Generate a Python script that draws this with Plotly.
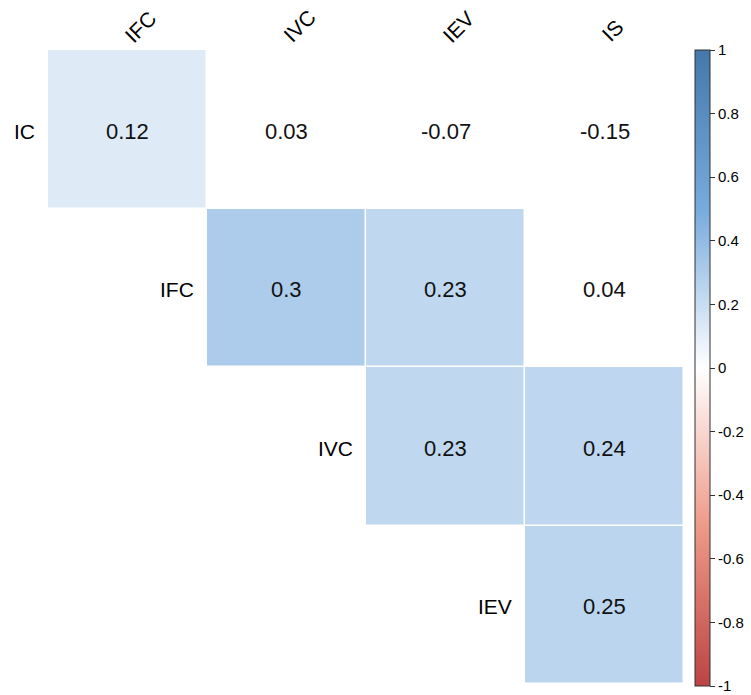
import plotly.graph_objects as go

# ---- data ----
row_labels = ["IC", "IFC", "IVC", "IEV"]
col_labels = ["IFC", "IVC", "IEV", "IS"]
corr_ic = [0.12, 0.03, -0.07, -0.15]
corr_ifc = [None, 0.30, 0.23, 0.04]
corr_ivc = [None, None, 0.23, 0.24]
corr_iev = [None, None, None, 0.25]
signif_ic = [True, False, False, False]
signif_ifc = [False, True, True, False]
signif_ivc = [False, False, True, True]
signif_iev = [False, False, False, True]
cbar_ticks = [1, 0.8, 0.6, 0.4, 0.2, 0, -0.2, -0.4, -0.6, -0.8, -1]

corr = [corr_ic, corr_ifc, corr_ivc, corr_iev]
signif = [signif_ic, signif_ifc, signif_ivc, signif_iev]

FONT = "Liberation Sans, Arial, sans-serif"
W, H = 751, 695
L, R, T, B = 48, 67, 50, 11
PW = W - L - R   # 636
PH = H - T - B   # 634

z = []
for i, row in enumerate(corr):
    z.append([v if (v is not None and signif[i][j]) else None for j, v in enumerate(row)])

xs = list(range(len(col_labels)))
ys = list(range(len(row_labels)))

colorscale = [
    [0.0, "#BB4444"],
    [0.25, "#EE9988"],
    [0.5, "#FFFFFF"],
    [0.75, "#77AADD"],
    [1.0, "#4477AA"],
]

fig = go.Figure()
fig.add_trace(go.Heatmap(
    z=z, x=xs, y=ys,
    zmin=-1, zmax=1,
    colorscale=colorscale,
    xgap=1.5, ygap=1.5,
    hoverinfo="skip",
    colorbar=dict(
        x=1 + (695 - (L + PW)) / PW, xanchor="left",
        y=1, yanchor="top",
        len=636 / PH, lenmode="fraction",
        thickness=15,
        xpad=0, ypad=0,
        outlinewidth=1, outlinecolor="#333333",
        tickmode="array",
        tickvals=cbar_ticks,
        ticktext=[("%g" % t) for t in cbar_ticks],
        ticks="outside", ticklen=5, tickcolor="#333333", tickwidth=1,
        tickfont=dict(family=FONT, size=15, color="#000000"),
    ),
))

annotations = []
# cell value text
for i, row in enumerate(corr):
    for j, v in enumerate(row):
        if v is not None:
            annotations.append(dict(
                x=xs[j], y=ys[i], xref="x", yref="y",
                text="%g" % round(v, 2), showarrow=False,
                xanchor="center", yanchor="middle", yshift=-2,
                font=dict(family=FONT, size=22, color="#111111"),
            ))
# row labels (left of diagonal cell)
for i, lab in enumerate(row_labels):
    annotations.append(dict(
        x=i - 0.5, y=i, xref="x", yref="y",
        text=lab, showarrow=False,
        xanchor="right", yanchor="middle", xshift=-11, yshift=-2,
        font=dict(family=FONT, size=21, color="#000000"),
    ))
# column labels (rotated, on top)
for j, lab in enumerate(col_labels):
    annotations.append(dict(
        x=j, y=1, xref="x", yref="paper",
        text=lab, showarrow=False, textangle=-45,
        xanchor="left", yanchor="bottom", xshift=-10, yshift=1,
        font=dict(family=FONT, size=21, color="#000000"),
    ))

fig.update_layout(
    width=W, height=H,
    margin=dict(l=L, r=R, t=T, b=B, autoexpand=False),
    paper_bgcolor="white", plot_bgcolor="white",
    annotations=annotations,
    xaxis=dict(range=[-0.5, 3.5], visible=False, fixedrange=True),
    yaxis=dict(range=[3.5, -0.5], visible=False, fixedrange=True),
    showlegend=False,
)

fig.write_html("out.html", config={"displayModeBar": False},
               post_script="document.body.style.margin='0';")
